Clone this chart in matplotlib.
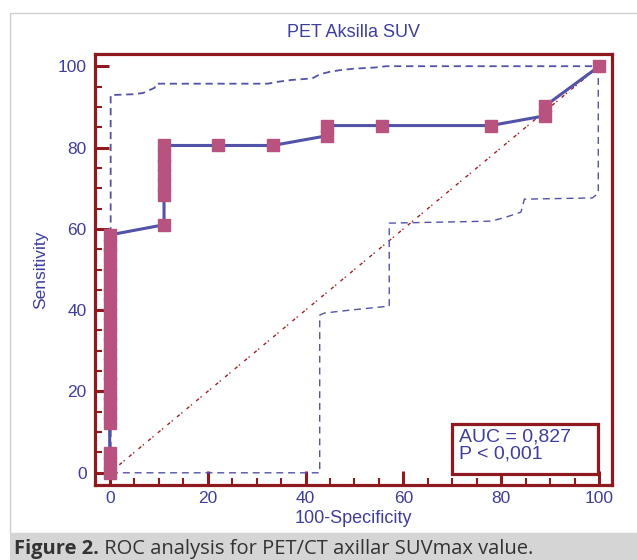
import matplotlib.pyplot as plt
from matplotlib.patches import Rectangle
from matplotlib.ticker import MultipleLocator

plt.rcParams['font.family'] = ['Liberation Sans', 'DejaVu Sans']

# ROC points (100-Specificity, Sensitivity)
roc_x = [0, 0, 0, 0, 0, 0, 0, 0, 0, 0, 0, 0, 0, 0, 0, 0, 0, 0, 0, 0, 0, 0, 0,
         11.1, 11.1, 11.1, 11.1, 11.1, 11.1, 11.1,
         22.2, 33.3, 44.4, 44.4, 55.6, 77.8, 88.9, 88.9, 100]
roc_y = [0, 2.4, 4.9, 12.2, 14.6, 17.1, 19.5, 22.0, 24.4, 26.8, 29.3, 31.7,
         34.1, 36.6, 39.0, 41.5, 43.9, 46.3, 48.8, 51.2, 53.7, 56.1, 58.5,
         61.0, 68.3, 70.7, 73.2, 75.6, 78.0, 80.5,
         80.5, 80.5, 82.9, 85.4, 85.4, 85.4, 87.8, 90.2, 100]

# 95% confidence bounds
upper_x = [0.2, 0.2, 4.8, 6.8, 9.2, 9.5, 32.3, 34.0, 37.0, 41.4, 42.9, 44.9,
           46.9, 50.0, 54.4, 56.5, 99.8]
upper_y = [0, 92.9, 93.1, 93.4, 94.7, 95.7, 95.7, 96.1, 96.6, 97.0, 98.0,
           98.6, 99.0, 99.4, 99.7, 100, 100]
lower_x = [99.8, 99.8, 98.6, 84.7, 84.0, 81.0, 78.0, 57.1, 57.1, 49.0, 43.9,
           42.9, 42.9, 0.2]
lower_y = [100, 68.8, 67.6, 67.3, 64.1, 62.9, 61.9, 61.4, 41.0, 40.0, 39.3,
           38.8, 0, 0]

auc_text = 'AUC = 0,827\nP < 0,001'

dark_red = '#8e1a1f'
txt_blue = '#3e3e9c'
line_blue = '#5252a8'
marker_pink = '#b8527f'

fig = plt.figure(figsize=(6.37, 5.6), dpi=100)

# outer panel and caption band
fig.patches.append(Rectangle((10 / 637, 27 / 560), 1, 520 / 560, transform=fig.transFigure,
                             facecolor='white', edgecolor='#cfcfcf', lw=1, zorder=-5))
fig.patches.append(Rectangle((10 / 637, 0), 1, 27 / 560, transform=fig.transFigure,
                             facecolor='#d5d5d5', edgecolor='none', zorder=-5))

ax = fig.add_axes([95 / 637, 75 / 560, 517 / 637, 431 / 560])
ax.set_xlim(-3, 102.6)
ax.set_ylim(-3, 103)

ax.plot([0, 100], [0, 100], color='#a31e22', lw=1.0, ls=(0, (2.5, 1.5, 1, 4)), zorder=2)
ax.plot(upper_x, upper_y, color=line_blue, lw=1.3, ls=(0, (4, 2.6)), zorder=2)
ax.plot(lower_x, lower_y, color=line_blue, lw=1.0, ls=(0, (5, 3.5)), zorder=2)
ax.plot(roc_x, roc_y, color=line_blue, lw=2.2, zorder=3)
ax.plot(roc_x, roc_y, ls='none', marker='s', ms=8.3, color=marker_pink, mec=marker_pink, zorder=4)

for s in ax.spines.values():
    s.set_color(dark_red)
    s.set_linewidth(2.3)

ax.xaxis.set_major_locator(MultipleLocator(20))
ax.xaxis.set_minor_locator(MultipleLocator(5))
ax.yaxis.set_major_locator(MultipleLocator(20))
ax.yaxis.set_minor_locator(MultipleLocator(5))
ax.tick_params(which='major', direction='in', color=dark_red, length=10, width=2.2,
               labelcolor=txt_blue, labelsize=12.5)
ax.tick_params(which='minor', direction='in', color=dark_red, length=5, width=1.5)
ax.tick_params(axis='x', which='major', pad=4)
ax.tick_params(axis='y', which='major', pad=6)

ax.set_title('PET Aksilla SUV', color=txt_blue, fontsize=13, pad=12)
ax.set_xlabel('100-Specificity', color=txt_blue, fontsize=13, labelpad=3)
ax.set_ylabel('Sensitivity', color=txt_blue, fontsize=12.5, labelpad=7)

ax.add_patch(Rectangle((70, -0.2), 29.8, 12.2, facecolor='white', edgecolor=dark_red,
                       lw=2.3, zorder=5))
ax.text(71.4, 11.0, auc_text, color=txt_blue, fontsize=14, va='top', ha='left',
        linespacing=1.05, zorder=6)

cap_font = ['Open Sans', 'DejaVu Sans']
t1 = fig.text(14 / 637, 6 / 560, 'Figure 2.', fontsize=14.5, fontweight='bold',
              color='#333333', family=cap_font, va='baseline')
ax.annotate(' ROC analysis for PET/CT axillar SUVmax value.', xy=(1, 0), xycoords=t1,
            va='bottom', ha='left', fontsize=14.5, color='#333333',
            family=cap_font, annotation_clip=False)

fig.savefig('out.png', dpi=100)
